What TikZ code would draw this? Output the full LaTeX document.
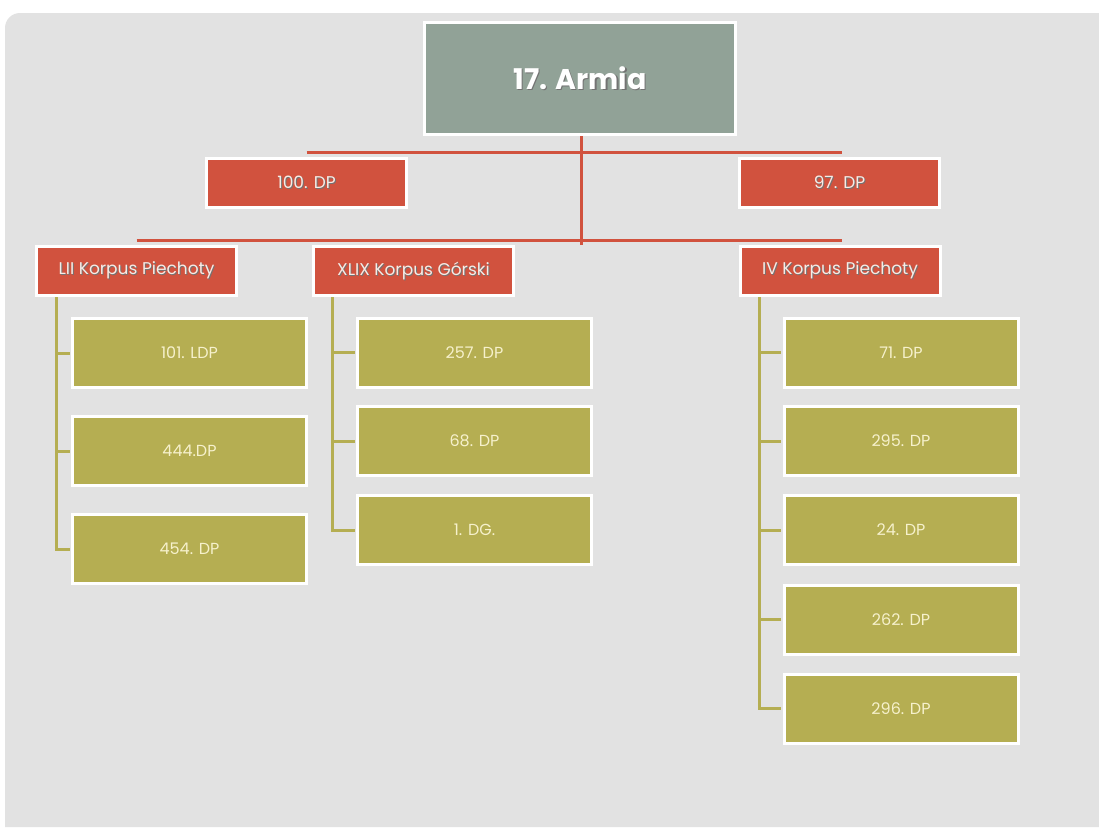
\documentclass[tikz,border=0pt]{standalone}
\usepackage{fontspec}
\setmainfont{Poppins}
\usetikzlibrary{positioning,calc}

\definecolor{bggray}{HTML}{E2E2E2}
\definecolor{armiagreen}{HTML}{91A297}
\definecolor{korpred}{HTML}{D1523E}
\definecolor{divolive}{HTML}{B5AE52}
\definecolor{divtext}{HTML}{F6F1CC}
\definecolor{redtext}{HTML}{F6ECE6}

% text with a small drop shadow
\newcommand{\shdtext}[2][1pt]{\rlap{\kern#1\raisebox{-#1}{\textcolor{black!55}{#2}}}#2}

\tikzset{
	box/.style={draw=white, line width=3pt, inner sep=0pt, align=center},
	armiabox/.style={box, fill=armiagreen, text=white, minimum width=311, minimum height=112, font=\fontsize{28.5}{31}\selectfont\bfseries},
	korpbox/.style={box, fill=korpred, text=redtext, minimum width=200, minimum height=49, font=\fontsize{17}{19}\selectfont},
	divbox/.style={box, fill=divolive, text=divtext, minimum width=234, minimum height=69, font=\fontsize{16}{18}\selectfont},
	redline/.style={draw=korpred, line width=3pt},
	oliveline/.style={draw=divolive, line width=3pt, shorten >=1.5pt},
}

\begin{document}
\begin{tikzpicture}[x=1pt,y=-1pt]
	\useasboundingbox (0,0) rectangle (1099,827);
	%background
	\fill[white] (0,0) rectangle (1099,827);
	\fill[bggray] (1099,827) -- (5,827) [rounded corners=15] -- (5,13) [sharp corners] -- (1099,13) -- cycle;
	
	%army
	\node[armiabox] (armia) at (580,78.5) {\shdtext[1.5pt]{17. Armia}};
	
	%divisions under the army
	\node[korpbox] (dp100) at (306.5,182.5) {\shdtext{100. DP}};
	\node[korpbox] (dp97) at (839.5,182.5) {\shdtext{97. DP}};
	
	%corps
	\node[korpbox] (lii) at (136.5,271) {\shdtext{LII Korpus Piechoty}};
	\node[korpbox] (xlix) at (413.5,271) {\shdtext{XLIX Korpus Górski}};
	\node[korpbox] (iv) at (840,271) {\shdtext{IV Korpus Piechoty}};
	
	%red connectors
	\draw[redline] ([xshift=1pt]armia.south) -- ++(0,109) coordinate (hub);
	\draw[redline] ([yshift=4.5pt]dp100.north) -- ([xshift=2pt,yshift=4.5pt]dp97.north);
	\draw[redline] ([yshift=5pt]lii.north) -- ([xshift=2pt,yshift=5pt]iv.north);
	
	%trunks
	\coordinate (liitr) at ([xshift=21pt]lii.south west);
	\coordinate (xlixtr) at ([xshift=20pt]xlix.south west);
	\coordinate (ivtr) at ([xshift=21pt]iv.south west);
	
	%LII
	\foreach \n/\t/\y in {a/101. LDP/353, b/444.DP/451, c/454. DP/549}{
		\node[divbox] (lii\n) at (189.5,\y) {\t};
		\draw[oliveline] (liitr) |- (lii\n.west);
	}
	
	%XLIX
	\foreach \n/\t/\y in {a/257. DP/352.5, b/68. DP/441, c/1. DG./530}{
		\node[divbox] (xlix\n) at (474.5,\y) {\t};
		\draw[oliveline] (xlixtr) |- (xlix\n.west);
	}
	
	%IV
	\foreach \n/\t/\y in {a/71. DP/352.5, b/295. DP/441, c/24. DP/530, d/262. DP/619.5, e/296. DP/708.5}{
		\node[divbox] (iv\n) at (901,\y) {\t};
		\draw[oliveline] (ivtr) |- (iv\n.west);
	}
	
\end{tikzpicture}
\end{document}
